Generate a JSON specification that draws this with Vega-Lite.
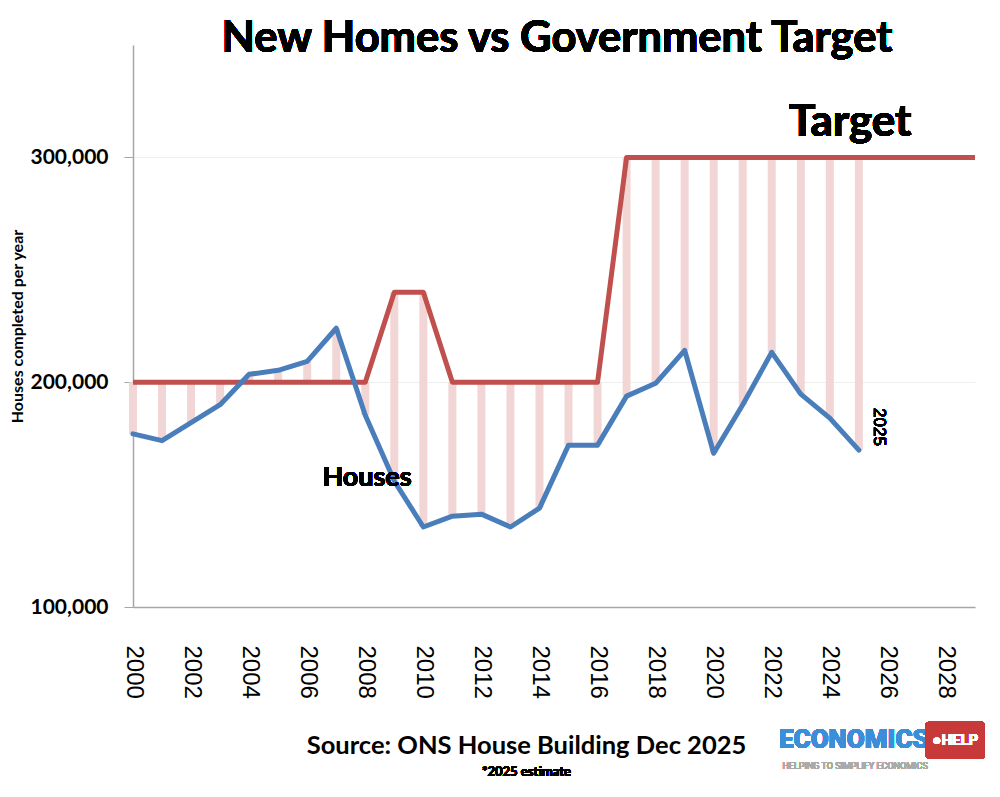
{
  "$schema": "https://vega.github.io/schema/vega-lite/v6.json",
  "width": 842,
  "height": 562,
  "autosize": {"type": "none"},
  "padding": {"left": 133, "top": 45, "right": 25, "bottom": 190},
  "background": "white",
  "config": {"view": {"stroke": null}, "font": "Lato"},
  "data": {"values": [
    {"year": 2000, "houses": 177000, "target": 200000},
    {"year": 2001, "houses": 174000, "target": 200000},
    {"year": 2002, "houses": 182000, "target": 200000},
    {"year": 2003, "houses": 190000, "target": 200000},
    {"year": 2004, "houses": 203500, "target": 200000},
    {"year": 2005, "houses": 205300, "target": 200000},
    {"year": 2006, "houses": 209300, "target": 200000},
    {"year": 2007, "houses": 224000, "target": 200000},
    {"year": 2008, "houses": 185300, "target": 200000},
    {"year": 2009, "houses": 156000, "target": 240000},
    {"year": 2010, "houses": 135600, "target": 240000},
    {"year": 2011, "houses": 140400, "target": 200000},
    {"year": 2012, "houses": 141300, "target": 200000},
    {"year": 2013, "houses": 135600, "target": 200000},
    {"year": 2014, "houses": 144000, "target": 200000},
    {"year": 2015, "houses": 172000, "target": 200000},
    {"year": 2016, "houses": 172000, "target": 200000},
    {"year": 2017, "houses": 193800, "target": 300000},
    {"year": 2018, "houses": 199500, "target": 300000},
    {"year": 2019, "houses": 214200, "target": 300000},
    {"year": 2020, "houses": 168400, "target": 300000},
    {"year": 2021, "houses": 190000, "target": 300000},
    {"year": 2022, "houses": 213300, "target": 300000},
    {"year": 2023, "houses": 194700, "target": 300000},
    {"year": 2024, "houses": 184000, "target": 300000},
    {"year": 2025, "houses": 169800, "target": 300000},
    {"year": 2026, "houses": null, "target": 300000},
    {"year": 2027, "houses": null, "target": 300000},
    {"year": 2028, "houses": null, "target": 300000},
    {"year": 2029, "houses": null, "target": 300000}
  ]},
  "encoding": {
    "x": {
      "field": "year", "type": "quantitative",
      "scale": {"domain": [2000, 2029], "nice": false, "zero": false},
      "axis": {
        "values": [2000, 2002, 2004, 2006, 2008, 2010, 2012, 2014, 2016, 2018, 2020, 2022, 2024, 2026, 2028],
        "format": "d",
        "labelAngle": 90,
        "labelAlign": "left",
        "labelBaseline": "middle",
        "labelFont": "Liberation Sans",
        "labelFontSize": 24,
        "labelColor": "#000000",
        "labelPadding": 38,
        "ticks": false,
        "grid": false,
        "domainColor": "#a6a6a6",
        "domainWidth": 1.5,
        "title": "Source: ONS House Building Dec 2025",
        "titleFont": "Lato",
        "titleFontWeight": "bold",
        "titleFontSize": 25.5,
        "titleColor": "#000000",
        "titleX": 393,
        "titleY": 138,
        "titleBaseline": "middle",
        "titleAlign": "center"
      }
    }
  },
  "layer": [
    {
      "transform": [{"filter": "datum.houses != null"}],
      "mark": {"type": "rule", "color": "#f2d6d6", "strokeWidth": 8},
      "encoding": {
        "y": {
          "field": "houses", "type": "quantitative",
          "scale": {"domain": [100000, 350000], "nice": false, "zero": false},
          "axis": {
            "values": [100000, 200000, 300000],
            "format": ",d",
            "labelFont": "Lato",
            "labelFontWeight": "bold",
            "labelFontSize": 21,
            "labelColor": "#000000",
            "labelPadding": 16,
            "tickSize": 9,
            "tickColor": "#a6a6a6",
            "domainColor": "#a6a6a6",
            "domainWidth": 1.5,
            "grid": true,
            "gridColor": "#eeeeee",
            "gridWidth": 1,
            "title": "Houses completed per year",
            "titleFont": "Lato",
            "titleFontWeight": "bold",
            "titleFontSize": 16,
            "titleColor": "#000000",
            "titlePadding": 5
          }
        },
        "y2": {"field": "target"}
      }
    },
    {
      "mark": {"type": "line", "color": "#c0504d", "strokeWidth": 5, "strokeJoin": "round"},
      "encoding": {"y": {"field": "target", "type": "quantitative"}}
    },
    {
      "mark": {"type": "line", "color": "#4a7ebb", "strokeWidth": 5, "strokeJoin": "round", "strokeCap": "round"},
      "encoding": {"y": {"field": "houses", "type": "quantitative"}}
    },
    {
      "mark": {"type": "text", "text": "New Homes vs Government Target", "font": "Lato", "fontWeight": "bold", "fontSize": 43.5, "align": "center", "baseline": "alphabetic", "color": "#000000"},
      "encoding": {"x": {"datum": 2014.6}, "y": {"datum": 346900}}
    },
    {
      "mark": {"type": "text", "text": "Target", "font": "Lato", "fontWeight": "bold", "fontSize": 44, "align": "center", "baseline": "middle", "color": "#000000"},
      "encoding": {"x": {"datum": 2024.7}, "y": {"datum": 315100}}
    },
    {
      "mark": {"type": "text", "text": "Houses", "font": "Lato", "fontWeight": "bold", "fontSize": 27, "align": "center", "baseline": "middle", "color": "#000000"},
      "encoding": {"x": {"datum": 2008.06}, "y": {"datum": 157300}}
    },
    {
      "mark": {"type": "text", "text": "2025", "font": "Liberation Sans", "fontSize": 17, "angle": 90, "align": "left", "baseline": "middle", "color": "#000000"},
      "encoding": {"x": {"datum": 2025.7}, "y": {"datum": 188500}}
    },
    {
      "mark": {"type": "text", "text": "*2025 estimate", "font": "Lato", "fontWeight": "bold", "fontSize": 13, "align": "center", "baseline": "middle", "color": "#000000"},
      "encoding": {"x": {"datum": 2013.55}, "y": {"datum": 26700}}
    },
    {
      "mark": {"type": "text", "text": "ECONOMICS", "font": "Roboto", "fontWeight": 900, "fontSize": 26, "align": "center", "baseline": "middle", "color": "#3d8ed8"},
      "encoding": {"x": {"datum": 2024.83}, "y": {"datum": 40900}}
    },
    {
      "mark": {"type": "rect", "color": "#c8393a", "cornerRadius": 3},
      "encoding": {"x": {"datum": 2027.3}, "x2": {"datum": 2029.34}, "y": {"datum": 48900}, "y2": {"datum": 32500}}
    },
    {
      "mark": {"type": "text", "text": "●HELP", "font": "Roboto", "fontWeight": "bold", "fontSize": 15, "align": "center", "baseline": "middle", "color": "#ffffff"},
      "encoding": {"x": {"datum": 2028.32}, "y": {"datum": 40700}}
    },
    {
      "mark": {"type": "text", "text": "HELPING TO SIMPLIFY ECONOMICS", "font": "Roboto", "fontSize": 9, "align": "center", "baseline": "middle", "color": "#aaaaaa"},
      "encoding": {"x": {"datum": 2024.87}, "y": {"datum": 29300}}
    }
  ]
}
